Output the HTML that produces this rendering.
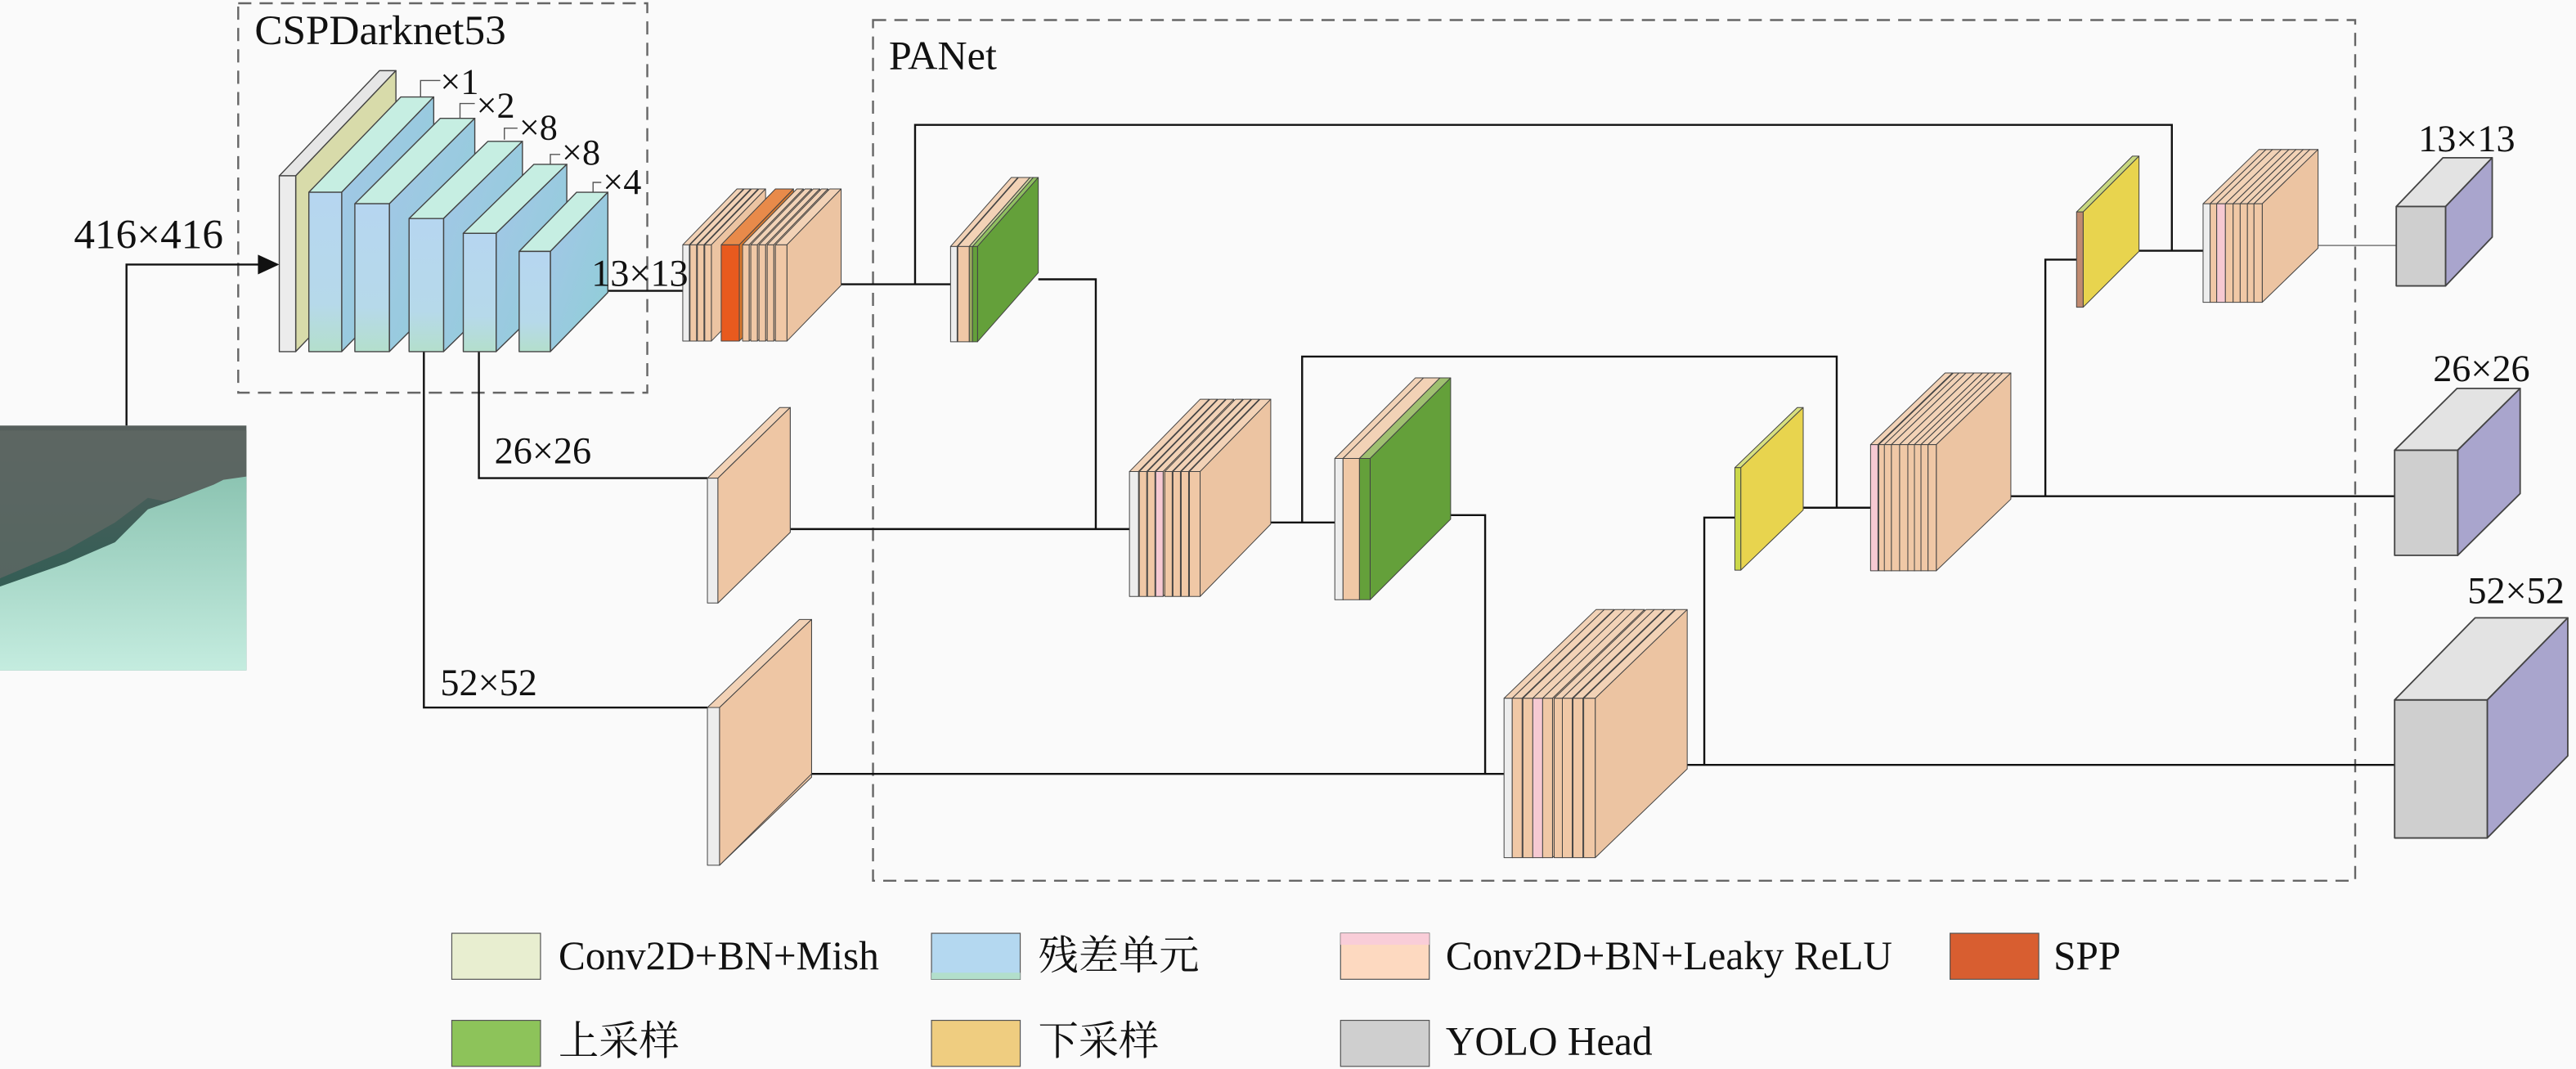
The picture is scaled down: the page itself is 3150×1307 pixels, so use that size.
<!DOCTYPE html>
<html><head><meta charset="utf-8"><style>
html,body{margin:0;padding:0;background:#fafafa;}
svg{display:block}
text{font-family:"Liberation Serif","Noto Serif CJK SC",serif;fill:#111}
</style></head><body>
<svg id="s" xmlns="http://www.w3.org/2000/svg" width="3150" height="1307" viewBox="0 0 1568 650.6" preserveAspectRatio="none">
<defs>
<linearGradient id="img" x1="0" y1="0" x2="0" y2="1"><stop offset="0" stop-color="#575f5c"/><stop offset="0.5" stop-color="#3a5e57"/><stop offset="1" stop-color="#2a5a50"/></linearGradient>
<linearGradient id="mint" x1="0" y1="0" x2="0" y2="1"><stop offset="0" stop-color="#8cc4b2"/><stop offset="1" stop-color="#c4ecdf"/></linearGradient>
<linearGradient id="bfront" x1="0" y1="0" x2="0" y2="1"><stop offset="0" stop-color="#b6d6f0"/><stop offset="0.7" stop-color="#b6d9ea"/><stop offset="1" stop-color="#b4dfcc"/></linearGradient>
<linearGradient id="bside" x1="0" y1="0" x2="1" y2="1"><stop offset="0" stop-color="#a4c6e8"/><stop offset="1" stop-color="#8ecfd6"/></linearGradient>
</defs>
<rect x="0" y="0" width="1568" height="650.6" fill="#fafafa"/>
<rect x="0" y="259" width="150" height="149" fill="url(#img)"/>
<polygon points="0,262 150,262 150,300 120,300 100,305 90,303 70,318 40,335 0,352" fill="#5f6864" opacity="0.8"/>
<polygon points="0,357 40,343 70,330 90,310 104,305 130,295 136,292 150,290 150,408 0,408" fill="url(#mint)"/>
<rect x="145" y="2" width="249" height="237" fill="none" stroke="#666" stroke-width="1.2" stroke-dasharray="8 5"/>
<rect x="531.4" y="12.2" width="902.2" height="523.8" fill="none" stroke="#666" stroke-width="1.2" stroke-dasharray="8 5"/>
<g id="lines" fill="none" stroke="#111" stroke-width="1.2">
<polyline points="77,259 77,161 162,161"/>
<polyline points="335,177 415.6,177"/>
<polyline points="511.7,173 578.6,173"/>
<polyline points="557,173 557,76 1322,76 1322,152.6"/>
<polyline points="632,170 667,170 667,322"/>
<polyline points="481,322 687.5,322"/>
<polyline points="291.5,214 291.5,291 430.6,291"/>
<polyline points="258,214 258,430.6 430.6,430.6"/>
<polyline points="494,471 915.5,471"/>
<polyline points="773,318 812.5,318"/>
<polyline points="792.6,318 792.6,217 1118,217 1118,309"/>
<polyline points="883,313.5 904,313.5 904,471"/>
<polyline points="1027,465.5 1457.6,465.5"/>
<polyline points="1037.4,465.5 1037.4,315 1056,315"/>
<polyline points="1097.6,309 1138.6,309"/>
<polyline points="1224,302 1457.6,302"/>
<polyline points="1245,302 1245,158 1264,158"/>
<polyline points="1302,152.6 1341,152.6"/>
<polyline points="1411,149.4 1458.6,149.4" stroke="#777" stroke-width="0.7"/>
<polyline points="256,59 256,49 268,49" stroke-width="0.7" stroke="#555"/>
<polyline points="280,72 280,63 289,63" stroke-width="0.7" stroke="#555"/>
<polyline points="307,85 307,78 315,78" stroke-width="0.7" stroke="#555"/>
<polyline points="335,100 335,94 341,94" stroke-width="0.7" stroke="#555"/>
<polyline points="361,117 361,111 366,111" stroke-width="0.7" stroke="#555"/>
</g>
<polygon points="170,161 157,155 157,167" fill="#111"/>
<g id="shapes"></g>
<text x="155" y="27" font-size="25.5">CSPDarknet53</text>
<text x="541" y="42" font-size="25">PANet</text>
<text x="45" y="151" font-size="25.5">416×416</text>
<text x="360" y="174" font-size="23">13×13</text>
<text x="301" y="282" font-size="23">26×26</text>
<text x="268" y="423" font-size="23">52×52</text>
<text x="268" y="57" font-size="22">×1</text>
<text x="290" y="71.5" font-size="22">×2</text>
<text x="316" y="85" font-size="22">×8</text>
<text x="342" y="100" font-size="22">×8</text>
<text x="367" y="118" font-size="22">×4</text>
<text x="1472" y="92" font-size="23">13×13</text>
<text x="1481" y="232" font-size="23">26×26</text>
<text x="1502" y="367" font-size="23">52×52</text>
<g stroke="#555" stroke-width="0.6">
<rect x="275" y="568" width="54" height="28" fill="#e8eed0"/>
<rect x="567" y="568" width="54" height="28" fill="#b4d8f0"/>
<rect x="567" y="592" width="54" height="4" fill="#b2dfcb" stroke="none"/>
<rect x="816" y="568" width="54" height="28" fill="#fdd9c0"/>
<rect x="816" y="568" width="54" height="7" fill="#f9cdd8" stroke="none"/>
<rect x="1187" y="568" width="54" height="28" fill="#d85e30"/>
<rect x="275" y="621" width="54" height="28" fill="#8dc35a"/>
<rect x="567" y="621" width="54" height="28" fill="#efcd80"/>
<rect x="816" y="621" width="54" height="28" fill="#cfcfcf"/>
</g>
<g font-size="24.5">
<text x="340" y="590">Conv2D+BN+Mish</text>
<text x="632" y="590">残差单元</text>
<text x="880" y="590">Conv2D+BN+Leaky ReLU</text>
<text x="1250" y="590">SPP</text>
<text x="340" y="642">上采样</text>
<text x="632" y="642">下采样</text>
<text x="880" y="642">YOLO Head</text>
</g>
</svg>
<script>
var g=document.getElementById('shapes'),NS='http://www.w3.org/2000/svg';
function poly(pts,fill,sw,sc){var p=document.createElementNS(NS,'polygon');p.setAttribute('points',pts.map(function(a){return a.join(',')}).join(' '));p.setAttribute('fill',fill);p.setAttribute('stroke',sc||'#444');p.setAttribute('stroke-width',sw||0.5);p.setAttribute('stroke-linejoin','round');g.appendChild(p);}
function slab(x,y,w,h,dx,dy,f,s,t,sw){
 poly([[x,y],[x+w,y],[x+w+dx,y-dy],[x+dx,y-dy]],t,sw);
 poly([[x+w,y],[x+w+dx,y-dy],[x+w+dx,y+h-dy],[x+w,y+h]],s,sw);
 poly([[x,y],[x+w,y],[x+w,y+h],[x,y+h]],f,sw);
}
var PF='#f0c8a6',PS='#ecc4a2',PT='#f2d2b6',WF='#ededed',KF='#f6c9d2';
function stack(y,h,dx,dy,arr){arr.forEach(function(a){slab(a[0],y,a[1],h,dx,dy,a[2]||PF,a[3]||PS,a[4]||PT);});}
slab(170,107,10,107,61,64,'#ececec','#d8dbaa','#e6e6e6',0.7);
var B=[[188,20,117,97,56,58],[216,21,124,90,52,52],[249,21,133,81,48,47],[282,20,142,72,43,42],[316,19,153,61,35,36]];
B.forEach(function(b){slab(b[0],b[2],b[1],b[3],b[4],b[5],'url(#bfront)','url(#bside)','#c6eee2',0.7);});
stack(149,58.6,33,34,[[415.6,4,WF],[420,4],[424.5,4],[429,4],[439,11,'#e85a1e','#d9782e','#e88a4a'],[452,4],[457,4],[462,4],[467,4],[472,7]]);
stack(150,58,37,42,[[578.6,4,WF],[583,7],[590,2,'#9aa860','#9aa860','#c8d49a'],[592,3,'#64a03a','#64a03a','#8fbf60']]);
stack(291,76,44,43,[[430.6,6.4,WF]]);
poly([[437,291],[481,248],[481,324],[437,367]],'#eec6a4',0.5);
stack(430.6,96,56,53.6,[[430.6,7.4,WF]]);
poly([[438,430.6],[494,377],[494,471],[438,526.6]],'#eec6a4',0.5);
stack(287,76,43,44,[[687.5,5.5,WF],[693.5,4.5],[698.5,4.5],[703.5,4.5,KF],[709,4.5],[714,4.5],[719,4.5],[724,6.5]]);
stack(279,86,49,49,[[812.5,5,WF],[817.5,10],[827.5,6.5,'#64a03a','#64a03a','#9fc070']]);
stack(425,97,56,54,[[915.5,5,WF],[920.5,6],[927,6],[933,6,KF],[939,6],[946,5],[951,6],[957.5,6],[964,7]]);
stack(284.6,62.4,38,36.6,[[1056,3.6,'#cbd84a','#e8d44e','#d8e080']]);
stack(270.6,76.8,45.4,43.6,[[1138.6,4.5,KF],[1143.6,3.5],[1147,4.3],[1151.3,5],[1156.3,5],[1161.3,4],[1165.3,4],[1169.3,4.3],[1173.6,5]]);
stack(129,58,34,34,[[1264,4,'#c08a70','#e8d44e','#c8d880']]);
stack(124,60,34,33,[[1341,4.3,WF],[1345.3,4],[1349.3,5.3,KF],[1354.6,4.7],[1359.3,4.3],[1363.6,4.4],[1368,4],[1372,5]]);
function head(x,y,w,h,d){slab(x,y,w,h,d[0],d[1],'#cfcfcf','#a9a5cd','#e3e3e3',0.9);}
head(1458.6,125.7,30,48.3,[28.4,29.7]);
head(1457.6,274,38.4,64,[38,37.6]);
head(1457.6,426,56.4,84,[49,50]);
</script>
</body></html>
